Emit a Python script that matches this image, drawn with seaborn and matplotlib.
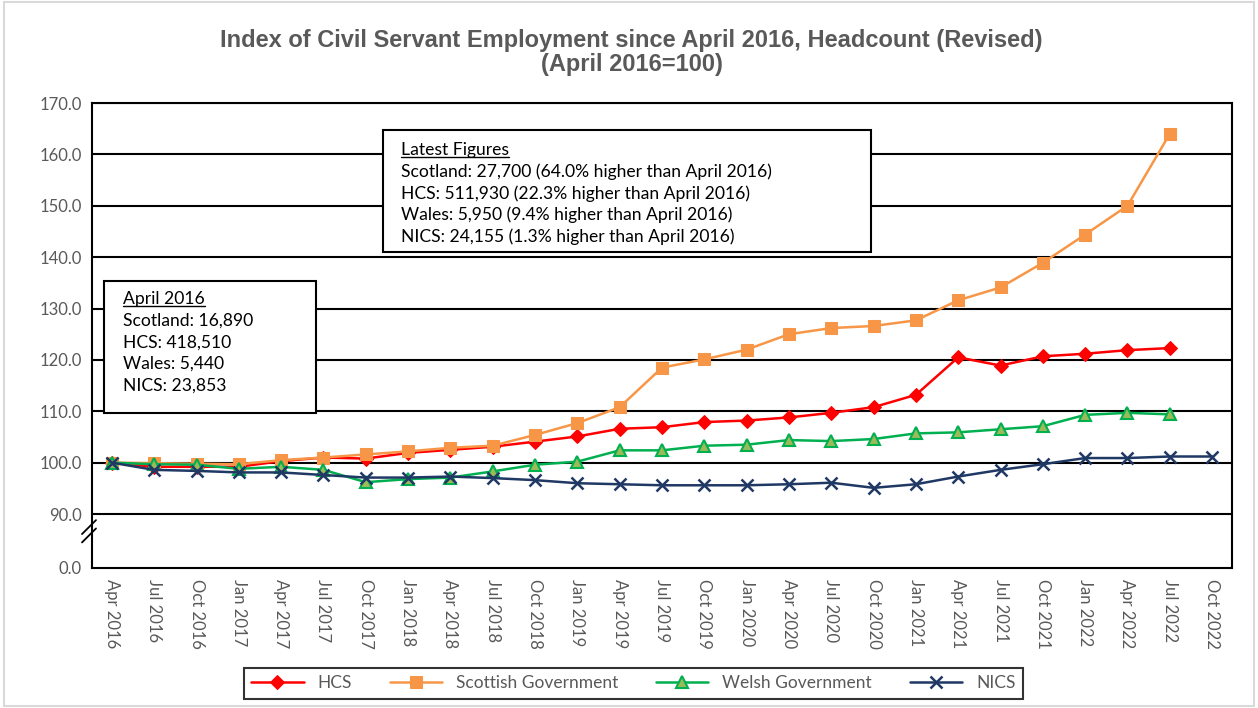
import pandas as pd
import seaborn as sns
import matplotlib.pyplot as plt
from matplotlib.patches import Rectangle
from matplotlib.lines import Line2D

# quarters on the x axis
quarters = ["Apr 2016", "Jul 2016", "Oct 2016", "Jan 2017", "Apr 2017", "Jul 2017",
            "Oct 2017", "Jan 2018", "Apr 2018", "Jul 2018", "Oct 2018", "Jan 2019",
            "Apr 2019", "Jul 2019", "Oct 2019", "Jan 2020", "Apr 2020", "Jul 2020",
            "Oct 2020", "Jan 2021", "Apr 2021", "Jul 2021", "Oct 2021", "Jan 2022",
            "Apr 2022", "Jul 2022", "Oct 2022"]

# index values (April 2016 = 100)
hcs = [100.0, 99.2, 99.2, 99.2, 100.3, 101.0, 100.8, 101.9, 102.5, 103.1, 104.1, 105.1,
       106.6, 106.9, 107.9, 108.2, 108.8, 109.7, 110.8, 113.2, 120.5, 118.9, 120.7,
       121.2, 121.9, 122.3]
scottish = [100.0, 99.9, 99.8, 99.7, 100.5, 101.0, 101.6, 102.2, 102.9, 103.3, 105.4,
            107.7, 110.8, 118.5, 120.1, 122.0, 125.0, 126.2, 126.6, 127.7, 131.6, 134.1,
            138.9, 144.4, 150.0, 164.0]
welsh = [100.0, 99.7, 99.6, 98.8, 99.2, 98.6, 96.2, 96.8, 97.1, 98.3, 99.6, 100.2,
         102.4, 102.4, 103.3, 103.5, 104.4, 104.2, 104.6, 105.7, 105.9, 106.5, 107.1,
         109.3, 109.7, 109.4]
nics = [100.0, 98.6, 98.4, 98.1, 98.1, 97.6, 97.1, 97.1, 97.3, 97.0, 96.6, 96.0,
        95.8, 95.6, 95.6, 95.6, 95.8, 96.1, 95.1, 95.8, 97.3, 98.6, 99.7, 100.9,
        100.9, 101.2, 101.2]

y_ticks = [90, 100, 110, 120, 130, 140, 150, 160, 170]

latest_lines = ["Scotland: 27,700 (64.0% higher than April 2016)",
                "HCS: 511,930 (22.3% higher than April 2016)",
                "Wales: 5,950 (9.4% higher than April 2016)",
                "NICS: 24,155 (1.3% higher than April 2016)"]
april_lines = ["Scotland: 16,890", "HCS: 418,510", "Wales: 5,440", "NICS: 23,853"]

sns.set_style("white")
plt.rcParams['font.family'] = ['Lato', 'DejaVu Sans']

grey = "#595959"
fig = plt.figure(figsize=(12.58, 7.08), dpi=100)
ax = fig.add_axes([92 / 1258, 1 - 568 / 708, 1140 / 1258, 465 / 708])

series = [
    ("HCS", hcs, dict(color="#FF0000", marker="D", markersize=7,
                      markerfacecolor="#FF0000", markeredgecolor="#FF0000")),
    ("Scottish Government", scottish, dict(color="#F79646", marker="s", markersize=8,
                                           markerfacecolor="#F79646", markeredgecolor="#F79646")),
    ("Welsh Government", welsh, dict(color="#00B050", marker="^", markersize=9,
                                     markerfacecolor="#9BBB59", markeredgecolor="#00B050",
                                     markeredgewidth=1.5)),
    ("NICS", nics, dict(color="#1F3864", marker="x", markersize=9, markeredgewidth=1.8,
                        markeredgecolor="#1F3864", markerfacecolor="#1F3864")),
]

handles = []
for name, vals, style in series:
    df = pd.DataFrame({"pos": range(len(vals)), "value": vals})
    sns.lineplot(data=df, x="pos", y="value", ax=ax, linewidth=1.8, zorder=3, **style)
    handles.append(ax.lines[-1])

# axes, grid, ticks
ax.set_xlim(-0.47, len(quarters) - 1 + 0.47)
ax.set_ylim(79.5, 170)
ax.set_yticks([79.5] + y_ticks)
ax.set_yticklabels(["0.0"] + [f"{v:.1f}" for v in y_ticks])
ax.set_xticks(range(len(quarters)))
ax.set_xticklabels(quarters, rotation=-90)
for v in y_ticks:
    ax.axhline(v, color="black", linewidth=1.5, zorder=1)
for s in ax.spines.values():
    s.set_color("black")
    s.set_linewidth(1.5)
ax.tick_params(axis="y", colors=grey, labelsize=12, length=4, width=1.2, color="black")
ax.tick_params(axis="x", colors=grey, labelsize=12, length=0, pad=8)
ax.set_xlabel("")
ax.set_ylabel("")

# axis break mark
for dy in (0.0, 0.018):
    ax.plot([-10 / 1140, 4 / 1140], [0.055 + dy, 0.085 + dy], color="black",
            linewidth=1.3, transform=ax.transAxes, clip_on=False, zorder=5)

# title
fig.text(0.502, 1 - 40 / 708, "Index of Civil Servant Employment since April 2016, Headcount (Revised)",
         ha="center", va="center", fontsize=17, fontweight="bold", color=grey,
         family="Liberation Sans")
fig.text(0.502, 1 - 64 / 708, "(April 2016=100)", ha="center", va="center",
         fontsize=17, fontweight="bold", color=grey, family="Liberation Sans")


# annotation boxes
def note_box(x0, y0, x1, y1, tx, ty, head, lines):
    fig.patches.append(Rectangle((x0 / 1258, 1 - y1 / 708), (x1 - x0) / 1258, (y1 - y0) / 708,
                                 transform=fig.transFigure, facecolor="white",
                                 edgecolor="black", linewidth=1.5, zorder=4))
    t = fig.text(tx / 1258, 1 - ty / 708, head, ha="left", va="center",
                 fontsize=12.6, color="black", zorder=5)
    for i, line in enumerate(lines):
        fig.text(tx / 1258, 1 - (ty + 21.7 * (i + 1)) / 708, line, ha="left", va="center",
                 fontsize=12.6, color="black", zorder=5)
    return t


t1 = note_box(383, 130, 871, 252, 401, 150, "Latest Figures", latest_lines)
t2 = note_box(104, 281, 316, 413, 123, 299, "April 2016", april_lines)

fig.canvas.draw()
renderer = fig.canvas.get_renderer()
for t in (t1, t2):
    bb = t.get_window_extent(renderer)
    yline = (bb.y0 + 1) / fig.bbox.height
    fig.lines.append(Line2D([bb.x0 / fig.bbox.width, bb.x1 / fig.bbox.width], [yline, yline],
                            transform=fig.transFigure, color="black", linewidth=1, zorder=5))

# legend
labels = [s[0] for s in series]
leg = fig.legend(handles, labels, loc="center", bbox_to_anchor=(633.5 / 1258, 1 - 683.5 / 708),
                 ncol=4, frameon=True, fancybox=False, edgecolor="black", fontsize=12.5,
                 handlelength=3, columnspacing=2.2, borderpad=0.45)
leg.get_frame().set_linewidth(1.5)
for txt in leg.get_texts():
    txt.set_color(grey)

# outer light border
fig.patches.append(Rectangle((0.003, 0.003), 0.994, 0.994, transform=fig.transFigure,
                             facecolor="none", edgecolor="#D9D9D9", linewidth=1.5))

plt.savefig("out.png", dpi=100)
